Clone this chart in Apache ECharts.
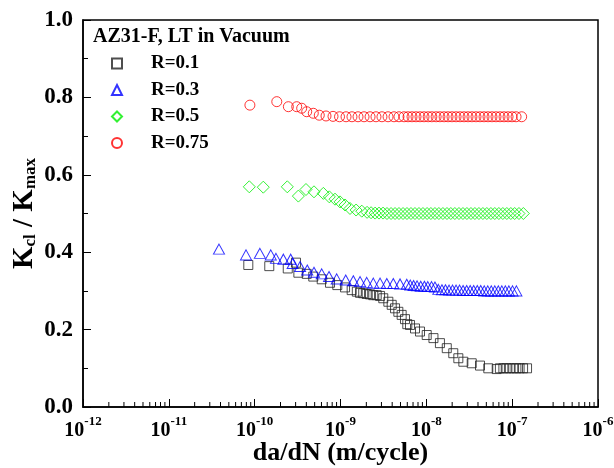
<!DOCTYPE html>
<html>
<head>
<meta charset="utf-8">
<script src="https://cdn.jsdelivr.net/npm/echarts@6/dist/echarts.min.js"></script>
<style>
html, body { margin: 0; padding: 0; background: #fff; }
#chart { width: 614px; height: 468px; }
</style>
</head>
<body>
<div id="chart"></div>
<script>
// R=0.1 (squares)
var r01X = [8.43e-11, 1.48e-10, 2.43e-10, 3.03e-10, 3.23e-10, 4.04e-10, 4.82e-10, 6.04e-10, 7.55e-10, 9.18e-10,
  1.13e-9, 1.35e-9, 1.55e-9, 1.69e-9, 1.84e-9, 2.02e-9, 2.21e-9, 2.41e-9, 2.64e-9, 2.89e-9,
  3.15e-9, 3.61e-9, 3.95e-9, 4.32e-9, 4.72e-9, 5.16e-9, 5.64e-9, 6.00e-9, 6.45e-9, 7.38e-9,
  8.44e-9, 1.01e-8, 1.21e-8, 1.44e-8, 1.73e-8, 2.06e-8, 2.36e-8, 2.70e-8, 3.38e-8, 4.22e-8,
  5.27e-8, 6.61e-8, 7.2e-8, 7.9e-8, 8.6e-8, 9.4e-8, 1.03e-7, 1.12e-7, 1.22e-7, 1.34e-7, 1.49e-7];
var r01Y = [0.367, 0.364, 0.358, 0.373, 0.347, 0.344, 0.337, 0.330, 0.321, 0.315,
  0.309, 0.302, 0.298, 0.295, 0.294, 0.292, 0.291, 0.289, 0.289, 0.287,
  0.281, 0.272, 0.264, 0.255, 0.246, 0.238, 0.227, 0.214, 0.212, 0.203,
  0.195, 0.186, 0.178, 0.165, 0.152, 0.139, 0.126, 0.117, 0.113, 0.107,
  0.100, 0.098, 0.100, 0.100, 0.100, 0.100, 0.100, 0.100, 0.100, 0.100, 0.100];

// R=0.3 (triangles)
var r03X = [3.84e-11, 7.93e-11, 1.15e-10, 1.54e-10, 1.77e-10, 2.16e-10, 2.63e-10, 2.77e-10, 3.38e-10, 4.10e-10,
  4.91e-10, 6.04e-10, 7.35e-10, 9.03e-10, 1.15e-9, 1.41e-9, 1.69e-9, 2.02e-9, 2.41e-9, 2.89e-9,
  3.46e-9, 4.12e-9, 4.94e-9, 5.91e-9, 6.5e-9, 7.1e-9, 7.8e-9, 8.6e-9, 9.5e-9, 1.04e-8,
  1.15e-8, 1.26e-8, 1.38e-8, 1.52e-8, 1.67e-8, 1.84e-8, 2.02e-8, 2.22e-8, 2.44e-8, 2.68e-8,
  2.95e-8, 3.24e-8, 3.56e-8, 3.92e-8, 4.30e-8, 4.73e-8, 5.20e-8, 5.71e-8, 6.28e-8, 6.90e-8,
  7.58e-8, 8.33e-8, 9.16e-8, 1.01e-7, 1.12e-7];
var r03Y = [0.408, 0.393, 0.397, 0.393, 0.384, 0.382, 0.382, 0.371, 0.363, 0.354,
  0.348, 0.344, 0.337, 0.331, 0.328, 0.326, 0.324, 0.322, 0.320, 0.320,
  0.319, 0.319, 0.318, 0.317, 0.315, 0.314, 0.313, 0.312, 0.312, 0.311,
  0.311, 0.310, 0.304, 0.303, 0.303, 0.302, 0.302, 0.302, 0.302, 0.301,
  0.301, 0.301, 0.301, 0.301, 0.301, 0.300, 0.300, 0.300, 0.300, 0.300,
  0.300, 0.300, 0.300, 0.300, 0.300];

// R=0.5 (diamonds)
var r05X = [8.66e-11, 1.26e-10, 2.40e-10, 3.23e-10, 3.96e-10, 4.91e-10, 6.31e-10, 7.41e-10, 8.63e-10, 9.87e-10,
  1.13e-9, 1.29e-9, 1.52e-9, 1.77e-9, 2.04e-9, 2.27e-9, 2.53e-9, 2.81e-9, 3.13e-9, 3.48e-9,
  3.88e-9, 4.32e-9, 4.80e-9, 5.35e-9, 5.95e-9, 6.62e-9, 7.37e-9, 8.21e-9, 9.13e-9, 1.02e-8,
  1.13e-8, 1.26e-8, 1.40e-8, 1.56e-8, 1.74e-8, 1.93e-8, 2.15e-8, 2.40e-8, 2.67e-8, 2.97e-8,
  3.31e-8, 3.68e-8, 4.10e-8, 4.56e-8, 5.07e-8, 5.65e-8, 6.28e-8, 7.00e-8, 7.79e-8, 8.67e-8,
  9.65e-8, 1.07e-7, 1.20e-7, 1.35e-7];
var r05Y = [0.569, 0.568, 0.569, 0.545, 0.562, 0.556, 0.552, 0.543, 0.537, 0.530,
  0.522, 0.513, 0.509, 0.506, 0.503, 0.502, 0.501, 0.501, 0.501, 0.500,
  0.500, 0.500, 0.500, 0.500, 0.500, 0.500, 0.500, 0.500, 0.500, 0.500,
  0.500, 0.500, 0.500, 0.500, 0.500, 0.500, 0.500, 0.500, 0.500, 0.500,
  0.500, 0.500, 0.500, 0.500, 0.500, 0.500, 0.500, 0.500, 0.500, 0.500,
  0.500, 0.500, 0.500, 0.500];

// R=0.75 (circles)
var r075X = [8.8e-11, 1.81e-10, 2.47e-10, 3.09e-10, 3.53e-10, 4.04e-10, 4.82e-10, 5.66e-10, 6.78e-10, 8.18e-10,
  9.74e-10, 1.16e-9, 1.36e-9, 1.60e-9, 1.88e-9, 2.21e-9, 2.59e-9, 3.04e-9, 3.58e-9, 4.20e-9,
  4.80e-9, 5.50e-9, 6.12e-9, 6.81e-9, 7.58e-9, 8.44e-9, 9.40e-9, 1.05e-8, 1.16e-8, 1.30e-8,
  1.44e-8, 1.61e-8, 1.79e-8, 1.99e-8, 2.22e-8, 2.47e-8, 2.75e-8, 3.06e-8, 3.40e-8, 3.79e-8,
  4.22e-8, 4.70e-8, 5.23e-8, 5.82e-8, 6.48e-8, 7.22e-8, 8.04e-8, 8.95e-8, 9.96e-8, 1.11e-7, 1.29e-7];
var r075Y = [0.780, 0.789, 0.776, 0.776, 0.772, 0.763, 0.759, 0.754, 0.752, 0.751,
  0.750, 0.750, 0.750, 0.750, 0.750, 0.750, 0.750, 0.750, 0.750, 0.750,
  0.750, 0.750, 0.750, 0.750, 0.750, 0.750, 0.750, 0.750, 0.750, 0.750,
  0.750, 0.750, 0.750, 0.750, 0.750, 0.750, 0.750, 0.750, 0.750, 0.750,
  0.750, 0.750, 0.750, 0.750, 0.750, 0.750, 0.750, 0.750, 0.750, 0.750, 0.750];

var seriesNames = ['R=0.1', 'R=0.3', 'R=0.5', 'R=0.75'];
var xDecades = [-12, -11, -10, -9, -8, -7];
var minorMult = [2, 3, 4, 5, 6, 7, 8, 9];

var font = '"Liberation Serif", "Times New Roman", serif';

function zip(xs, ys) {
  return xs.map(function (x, i) { return [x, ys[i]]; });
}

// minor ticks of the log axis at 2..9 x 10^n
var xMinorTicks = [];
xDecades.forEach(function (d) {
  minorMult.forEach(function (m) { xMinorTicks.push([m * Math.pow(10, d), 0]); });
});

function scatter(name, data, symbol, size, color) {
  return {
    name: name,
    type: 'scatter',
    data: data,
    symbol: symbol,
    symbolSize: size,
    itemStyle: { color: 'rgba(0,0,0,0)', borderColor: color, borderWidth: 1 },
    emphasis: { disabled: true }
  };
}

var chart = echarts.init(document.getElementById('chart'));
chart.setOption({
  animation: false,
  title: {
    text: 'AZ31-F, LT in Vacuum',
    left: 93,
    top: 27,
    padding: 0,
    textStyle: { fontFamily: font, fontWeight: 'bold', fontSize: 20, color: '#000' }
  },
  legend: {
    orient: 'vertical',
    left: 106,
    top: 49,
    itemWidth: 10,
    itemHeight: 10,
    itemGap: 7.5,
    data: seriesNames,
    textStyle: { fontFamily: font, fontWeight: 'bold', fontSize: 19, color: '#000', lineHeight: 19, padding: [0, 0, 0, 24] }
  },
  grid: {
    left: 83, right: 16, top: 20, bottom: 61,
    outerBoundsMode: 'none',
    containLabel: false,
    show: true, borderColor: '#000', borderWidth: 1.5
  },
  xAxis: {
    type: 'log',
    logBase: 10,
    min: 1e-12,
    max: 1e-6,
    name: 'da/dN (m/cycle)',
    nameLocation: 'middle',
    nameGap: 33,
    nameMoveOverlap: false,
    nameTextStyle: { fontFamily: font, fontWeight: 'bold', fontSize: 26, color: '#000' },
    axisLine: { lineStyle: { color: '#000', width: 1.5 } },
    axisTick: { inside: true, length: 8, lineStyle: { color: '#000' } },
    minorTick: { show: false },
    splitLine: { show: false },
    axisLabel: {
      margin: 8,
      formatter: function (v) {
        return '{b|10}{s|' + Math.round(Math.log10(v)) + '}';
      },
      rich: {
        b: { fontFamily: font, fontWeight: 'bold', fontSize: 20, color: '#000', lineHeight: 26, verticalAlign: 'bottom' },
        s: { fontFamily: font, fontWeight: 'bold', fontSize: 13, color: '#000', lineHeight: 14, verticalAlign: 'top' }
      }
    }
  },
  yAxis: {
    type: 'value',
    min: 0,
    max: 1,
    interval: 0.2,
    name: '{k|K}{s|cl}{k| / K}{s|max}',
    nameLocation: 'middle',
    nameRotate: 90,
    nameGap: 44,
    nameMoveOverlap: false,
    nameTextStyle: {
      rich: {
        k: { fontFamily: font, fontWeight: 'bold', fontSize: 29, color: '#000', lineHeight: 32, verticalAlign: 'bottom' },
        s: { fontFamily: font, fontWeight: 'bold', fontSize: 17, color: '#000', lineHeight: 17, verticalAlign: 'bottom' }
      }
    },
    axisLine: { show: true, lineStyle: { color: '#000', width: 1.5 } },
    axisTick: { inside: true, length: 8, lineStyle: { color: '#000' } },
    minorTick: { show: true, splitNumber: 2, length: 5, lineStyle: { color: '#000' } },
    splitLine: { show: false },
    axisLabel: {
      margin: 10,
      fontFamily: font, fontWeight: 'bold', fontSize: 23, color: '#000',
      formatter: function (v) { return v.toFixed(1); }
    }
  },
  series: [
    scatter('R=0.1', zip(r01X, r01Y), 'rect', 9, '#222'),
    scatter('R=0.3', zip(r03X, r03Y), 'triangle', [11, 10], '#0000ff'),
    scatter('R=0.5', zip(r05X, r05Y), 'diamond', 12, '#00ee00'),
    scatter('R=0.75', zip(r075X, r075Y), 'circle', 10, '#ff0000'),
    {
      type: 'custom',
      silent: true,
      clip: false,
      z: 5,
      data: xMinorTicks,
      renderItem: function (params, api) {
        var p = api.coord([api.value(0), api.value(1)]);
        return {
          type: 'line',
          shape: { x1: p[0], y1: p[1], x2: p[0], y2: p[1] - 5 },
          style: { stroke: '#000', lineWidth: 1 }
        };
      }
    }
  ]
});
</script>
</body>
</html>
